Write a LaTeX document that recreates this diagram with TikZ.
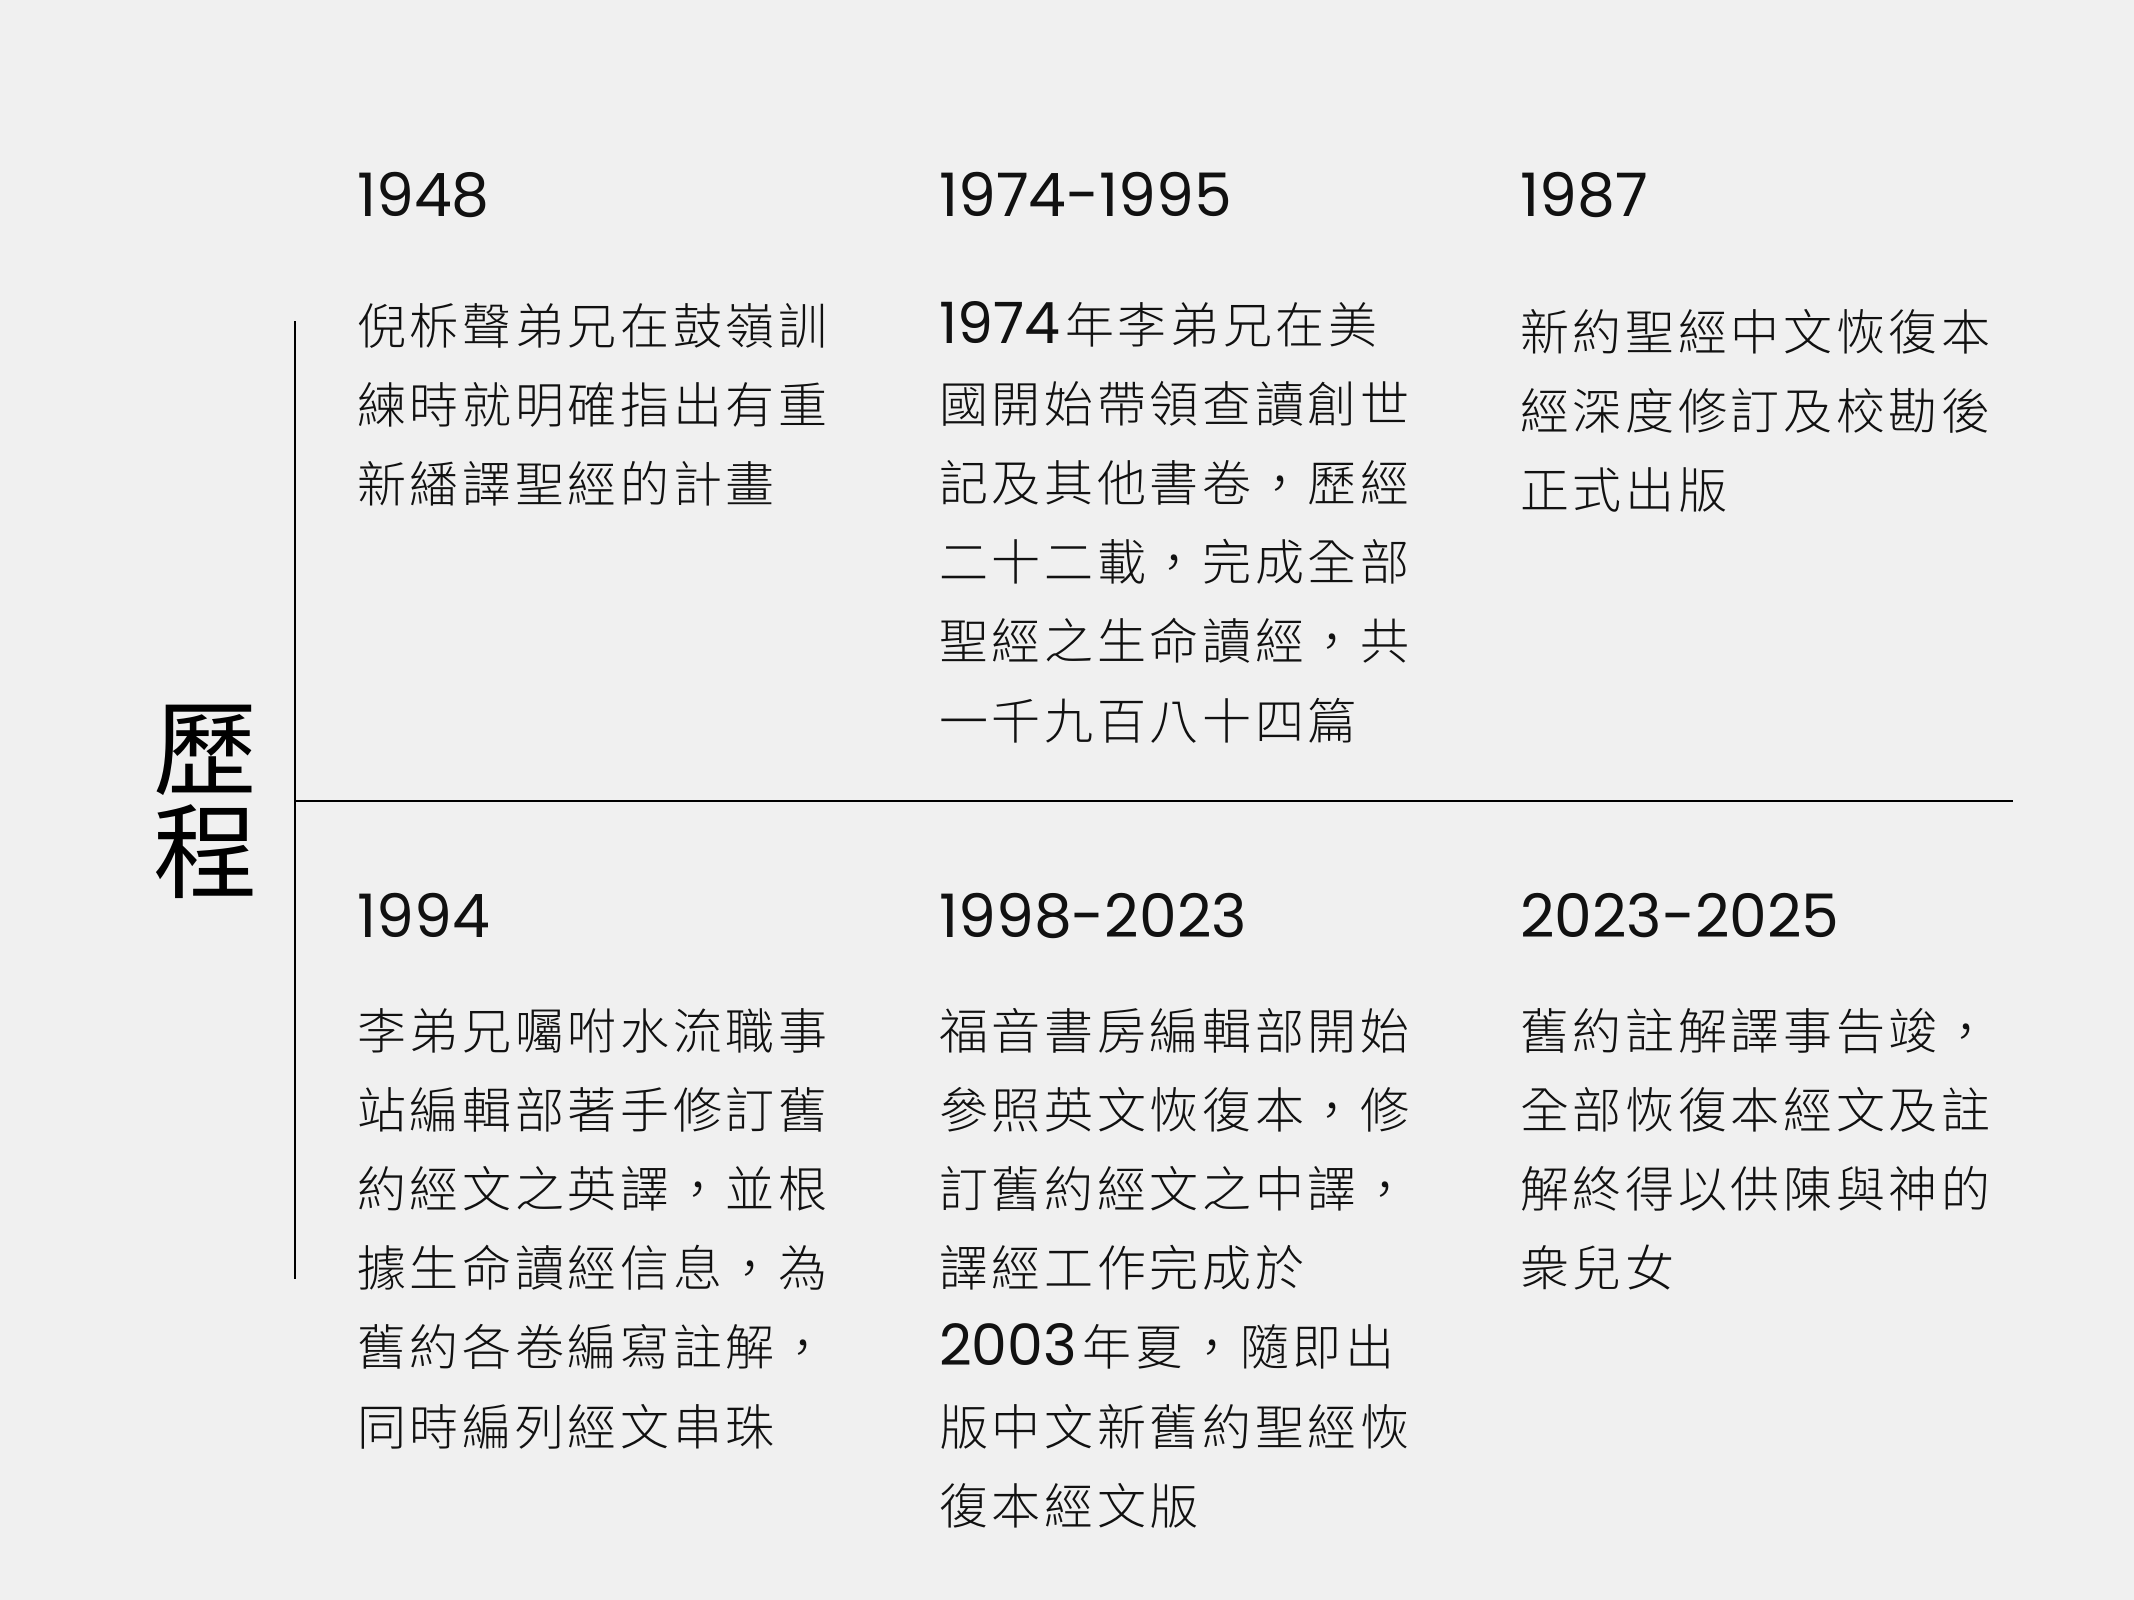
\documentclass[tikz,border=0pt]{standalone}
\usepackage{fontspec}
\newfontfamily\cjk[LetterSpace=7.5,UprightFont={* Light}]{Noto Sans CJK TC}
\newfontfamily\titlefont{Noto Sans CJK TC}
\newfontfamily\yearfont{Poppins}
\newcommand\nf[1]{{\yearfont\fontsize{57}{79}\selectfont #1\hspace{5pt}}}
\definecolor{paper}{HTML}{F0F0F0}
\definecolor{ink}{HTML}{111111}
\begin{document}
\begin{tikzpicture}[x=1pt,y=-1pt,
  rule/.style={draw=black,line width=2.4pt},
  body/.style={anchor=base west,inner sep=0pt,text=ink,font=\cjk\fontsize{49}{79}\selectfont},
  year/.style={anchor=base west,inner sep=0pt,text=ink,font=\yearfont\fontsize{60}{60}\selectfont},
  heading/.style={inner sep=0pt,text=black,align=center,font=\titlefont\fontsize{104}{103}\selectfont}]
\fill[paper] (0,0) rectangle (2134,1600);
\useasboundingbox (0,0) rectangle (2134,1600);

% side title and axes
\node[heading] (title) at (205,802) {歷\\程};
\coordinate (vtop) at (295,321);
\coordinate (vbot) at (295,1279);
\coordinate (hleft) at (295,801);
\coordinate (hright) at (2013,801);
\draw[rule] (vtop) -- (vbot);
\draw[rule] (hleft) -- (hright);

% year headings
\node[year] (y1) at (357,216) {1948};
\node[year] (y2) at (939,216) {1974-1995};
\node[year] (y3) at (1520,216) {1987};
\node[year] (y4) at (357,937) {1994};
\node[year] (y5) at (939,937) {1998-2023};
\node[year] (y6) at (1520,937) {2023-2025};

% event texts, one node per line
\foreach \t [count=\i from 0] in {{倪柝聲弟兄在鼓嶺訓},{練時就明確指出有重},{新繙譯聖經的計畫}}
  \node[body] (a\i) at (357,344+\i*79.2) {\t};
\foreach \t [count=\i from 0] in {{\nf{1974}年李弟兄在美},{國開始帶領查讀創世},{記及其他書卷，歷經},{二十二載，完成全部},{聖經之生命讀經，共},{一千九百八十四篇}}
  \node[body] (b\i) at (939,343+\i*79.2) {\t};
\foreach \t [count=\i from 0] in {{新約聖經中文恢復本},{經深度修訂及校勘後},{正式出版}}
  \node[body] (c\i) at (1520,350+\i*79.2) {\t};
\foreach \t [count=\i from 0] in {{李弟兄囑咐水流職事},{站編輯部著手修訂舊},{約經文之英譯，並根},{據生命讀經信息，為},{舊約各卷編寫註解，},{同時編列經文串珠}}
  \node[body] (d\i) at (357,1049+\i*79.2) {\t};
\foreach \t [count=\i from 0] in {{福音書房編輯部開始},{參照英文恢復本，修},{訂舊約經文之中譯，},{譯經工作完成於},{\nf{2003}年夏，隨即出},{版中文新舊約聖經恢},{復本經文版}}
  \node[body] (e\i) at (939,1049+\i*79.2) {\t};
\foreach \t [count=\i from 0] in {{舊約註解譯事告竣，},{全部恢復本經文及註},{解終得以供陳與神的},{衆兒女}}
  \node[body] (f\i) at (1520,1049+\i*79.2) {\t};
\end{tikzpicture}
\end{document}
